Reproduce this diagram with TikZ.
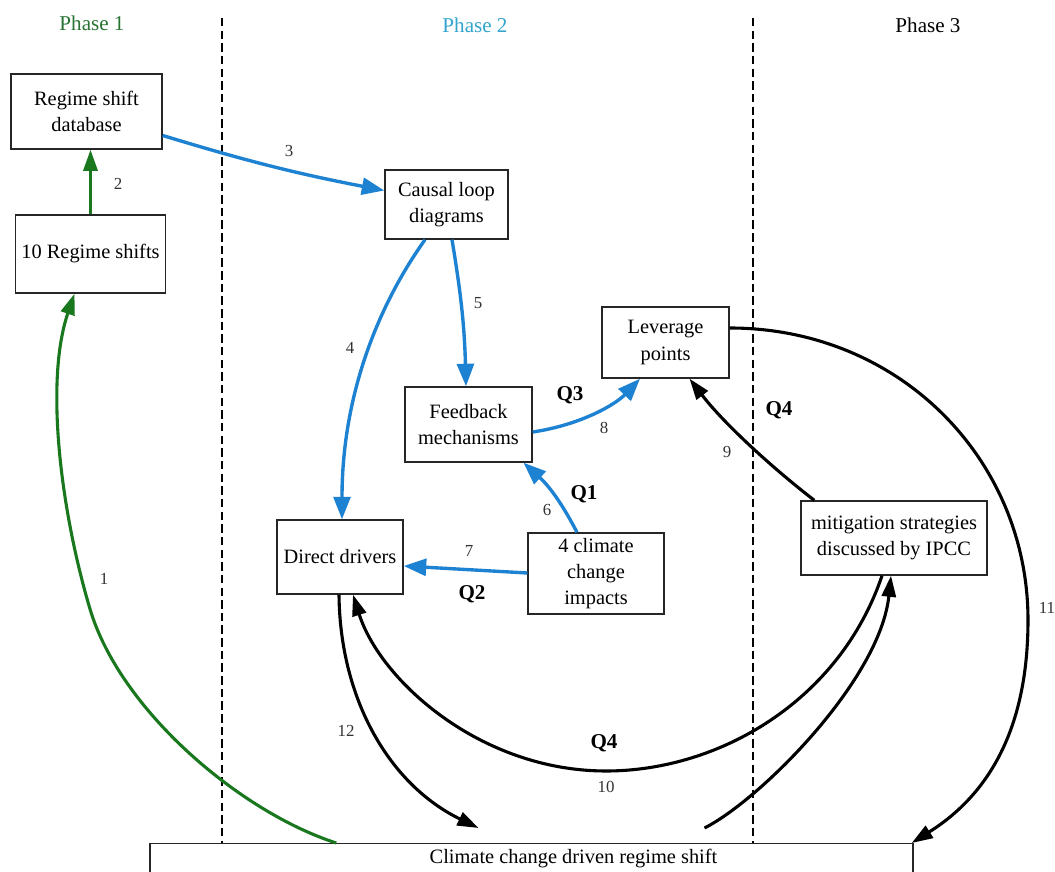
\documentclass[tikz,border=0pt]{standalone}
\usepackage{fontspec}
\setmainfont{Liberation Serif}
\newfontfamily\tms{Liberation Serif}
\usetikzlibrary{arrows.meta,calc}
\newlength\pxu \setlength\pxu{0.025cm}
\definecolor{cblue}{RGB}{30,130,210}
\definecolor{cgreen}{RGB}{25,120,30}
\definecolor{pgreen}{RGB}{40,115,50}
\definecolor{pblue}{RGB}{50,165,205}
\tikzset{
 box/.style={draw=black!85, line width=1pt, align=center, font=\tms\fontsize{14.5}{18.5}\selectfont, inner xsep=1pt, inner ysep=2pt},
 bluearrow/.style={draw=cblue, line width=2.4pt, -{Triangle[length=16pt,width=12pt]}},
 greenarrow/.style={draw=cgreen, line width=2.2pt, -{Triangle[length=15pt,width=10pt]}},
 blackarrow/.style={draw=black, line width=2.2pt, -{Triangle[length=15pt,width=10pt]}},
 num/.style={font=\tms\fontsize{12}{14}\selectfont, text=black!80},
 qlab/.style={font=\tms\fontsize{15}{18}\selectfont\bfseries},
 phase/.style={font=\tms\fontsize{15}{18}\selectfont},
 divider/.style={draw=black, line width=0.9pt, dash pattern=on 6pt off 3pt},
}
\begin{document}
\begin{tikzpicture}[x=0.025cm, y=-0.025cm]
\useasboundingbox (0,0) rectangle (1055,872);
\fill[white] (0,0) rectangle (1055,872);

% dividers
\draw[divider] (222,18) -- (222,843);
\draw[divider] (753,18) -- (753,843);

% phase labels
\node[phase, text=pgreen] (ph1) at (92,23) {Phase 1};
\node[phase, text=pblue] (ph2) at (475,25) {Phase 2};
\node[phase, text=black] (ph3) at (928,25) {Phase 3};

% boxes
\node[box, minimum width=151\pxu, minimum height=75\pxu] (db) at (86.5,111.5) {Regime shift\\database};
\node[box, minimum width=150\pxu, minimum height=78\pxu] (rs10) at (90.5,254) {10 Regime shifts};
\node[box, minimum width=123\pxu, minimum height=69\pxu] (cld) at (446.5,204.5) {Causal loop\\diagrams};
\node[box, minimum width=127\pxu, minimum height=71\pxu] (lev) at (665.5,342.5) {Leverage\\points};
\node[box, minimum width=127\pxu, minimum height=75\pxu] (fb) at (468.5,424.5) {Feedback\\mechanisms};
\node[box, minimum width=126\pxu, minimum height=74\pxu] (dd) at (340,557) {Direct drivers};
\node[box, minimum width=136\pxu, minimum height=81\pxu] (cci) at (596,573.5) {4 climate\\change\\impacts};
\node[box, minimum width=186\pxu, minimum height=74\pxu] (mit) at (894,538) {mitigation strategies\\discussed by IPCC};
\node[box, anchor=north, minimum width=763\pxu, text height=11pt, text depth=40pt, inner ysep=3pt] (ccd) at (531.5,843) {\hspace*{84\pxu}Climate change driven regime shift};

% endpoints
\coordinate (e1s) at ($(ccd.north west)+(187,0)$);
\coordinate (e1e) at ($(rs10.south)+(-16,0)$);
\coordinate (e3s) at ($(db.east)+(0,24)$);
\coordinate (e3e) at ($(cld.west)+(0,-14)$);
\coordinate (e4s) at ($(cld.south)+(-21.5,0)$);
\coordinate (e4e) at ($(dd.north)+(2,0)$);
\coordinate (e5s) at ($(cld.south)+(5.5,0)$);
\coordinate (e5e) at ($(fb.north)+(-2.5,0)$);
\coordinate (e6s) at ($(cci.north)+(-19,0)$);
\coordinate (e6e) at ($(fb.south)+(55,0)$);
\coordinate (e7s) at ($(cci.west)+(0,-0.5)$);
\coordinate (e7e) at ($(dd.east)+(0,9)$);
\coordinate (e8s) at ($(fb.east)+(0,7.5)$);
\coordinate (e8e) at ($(lev.south)+(-25.5,0)$);
\coordinate (e9s) at ($(mit.north west)+(14,0)$);
\coordinate (e9e) at ($(lev.south)+(24,0)$);
\coordinate (e10s) at ($(mit.south)+(-12,0)$);
\coordinate (e10e) at ($(dd.south)+(13,0)$);
\coordinate (e13s) at ($(ccd.north)+(173,-15)$);
\coordinate (e13e) at ($(mit.south)+(-3,0)$);
\coordinate (e11s) at ($(lev.east)+(0,-14.5)$);
\coordinate (e11e) at ($(ccd.north east)+(-2,0)$);
\coordinate (e12s) at ($(dd.south)+(-1,0)$);
\coordinate (e12e) at ($(ccd.north)+(-53,-15)$);

% green
\draw[greenarrow] (e1s) .. controls (240,812) and (120,710) .. (90,609) .. controls (60,508) and (45,380) .. (e1e);
\draw[greenarrow] (rs10.north) -- (rs10.north |- db.south);

% blue
\draw[bluearrow] (e3s) to[bend right=3] (e3e);
\draw[bluearrow] (e4s) .. controls (375,310) and (342,400) .. (e4e);
\draw[bluearrow] (e5s) to[bend left=4] (e5e);
\draw[bluearrow] (e6s) to[bend right=10] (e6e);
\draw[bluearrow] (e7s) -- (e7e);
\draw[bluearrow] (e8s) .. controls (580,425) and (615,405) .. (e8e);

% black
\draw[blackarrow] (e9s) .. controls (775,470) and (725,425) .. (e9e);
\draw[blackarrow] (e10s) .. controls (840,700) and (720,771) .. (606,771) .. controls (480,771) and (380,680) .. (e10e);
\draw[blackarrow] (e13s) .. controls (760,800) and (880,680) .. (e13e);
\draw[blackarrow] (e11s) .. controls (900,328) and (1028,460) .. (1028,620) .. controls (1028,740) and (980,800) .. (e11e);
\draw[blackarrow] (e12s) .. controls (340,700) and (390,785) .. (e12e);

% labels
\node[num] (l1) at (104,579) {1};
\node[num] (l2) at (118,184) {2};
\node[num] (l3) at (289,151) {3};
\node[num] (l4) at (350,348) {4};
\node[num] (l5) at (478,303) {5};
\node[num] (l6) at (547,510) {6};
\node[num] (l7) at (469,551) {7};
\node[num] (l8) at (604,428) {8};
\node[num] (l9) at (727,452) {9};
\node[num] (l10) at (606,787) {10};
\node[num] (l11) at (1047,608) {11};
\node[num] (l12) at (346,731) {12};
\node[qlab] (q1) at (584,494) {Q1};
\node[qlab] (q2) at (472,594) {Q2};
\node[qlab] (q3) at (570,395) {Q3};
\node[qlab] (q4a) at (779,410) {Q4};
\node[qlab] (q4b) at (604,743) {Q4};
\end{tikzpicture}
\end{document}
